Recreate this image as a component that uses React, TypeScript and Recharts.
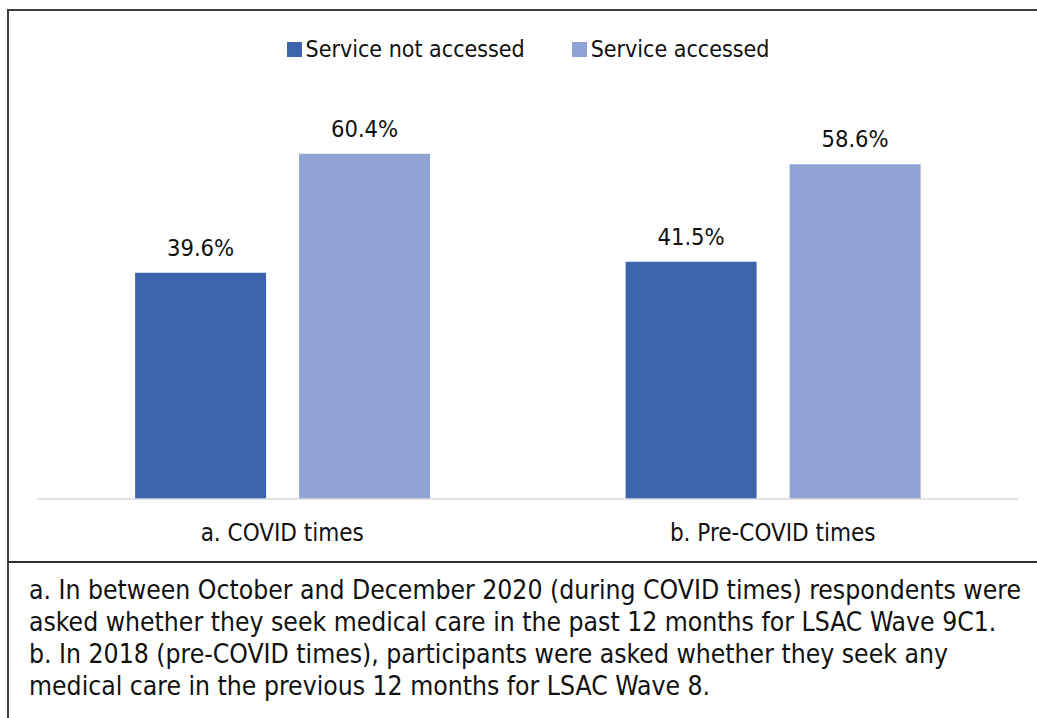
import React from 'react';
import { BarChart, Bar, XAxis, YAxis, LabelList } from 'recharts';

const categories = ['a. COVID times', 'b. Pre-COVID times'];
const notAccessed = [39.6, 41.5];
const accessed = [60.4, 58.6];
const seriesNames = ['Service not accessed', 'Service accessed'];
const seriesColors = ['#3D64AC', '#8FA3D4'];
const notes = [
  'a. In between October and December 2020 (during COVID times) respondents were',
  'asked whether they seek medical care in the past 12 months for LSAC Wave 9C1.',
  'b. In 2018 (pre-COVID times), participants were asked whether they seek any',
  'medical care in the previous 12 months for LSAC Wave 8.',
];

const data = categories.map((name, i) => ({
  name,
  notAccessed: notAccessed[i],
  accessed: accessed[i],
}));

const font = "'DejaVu Sans Condensed', 'DejaVu Sans', sans-serif";
const fmt = (v: number) => `${v.toFixed(1)}%`;

export default function App() {
  return (
    <div style={{ position: 'relative', width: 1037, height: 718, overflow: 'hidden', fontFamily: font }}>
      <style>{'body{margin:0;overflow:hidden}'}</style>
      <div style={{ position: 'absolute', left: 7, top: 9, width: 1100, height: 553, border: '2px solid #404040', borderRight: 'none', borderBottom: 'none', boxSizing: 'border-box' }} />
      <div style={{ position: 'absolute', left: 7, top: 561, width: 1100, height: 200, borderLeft: '2px solid #404040', borderTop: '2px solid #333', boxSizing: 'border-box' }} />

      <div style={{ position: 'absolute', left: 0, top: 36, width: 1056, display: 'flex', justifyContent: 'center', gap: 47, fontSize: 23, color: '#111' }}>
        {seriesNames.map((n, i) => (
          <div key={n} style={{ display: 'flex', alignItems: 'center' }}>
            <span style={{ display: 'inline-block', width: 15, height: 15, background: seriesColors[i], marginRight: 4 }} />
            {n}
          </div>
        ))}
      </div>

      <div style={{ position: 'absolute', left: 0, top: 0 }}>
        <BarChart
          width={1037}
          height={565}
          data={data}
          margin={{ top: 99, right: 19, left: 37, bottom: 26 }}
          barCategoryGap="20%"
          barGap={33}
        >
          <XAxis
            dataKey="name"
            height={40}
            axisLine={{ stroke: '#D9D9D9', strokeWidth: 1.5 }}
            tickLine={false}
            tickMargin={19}
            tick={{ fill: '#111', fontSize: 24, fontFamily: font }}
          />
          <YAxis hide domain={[0, 70]} />
          <Bar dataKey="notAccessed" fill={seriesColors[0]} isAnimationActive={false}>
            <LabelList dataKey="notAccessed" position="top" offset={17} formatter={fmt} style={{ fill: '#111', fontSize: 23.5, fontFamily: font }} />
          </Bar>
          <Bar dataKey="accessed" fill={seriesColors[1]} isAnimationActive={false}>
            <LabelList dataKey="accessed" position="top" offset={17} formatter={fmt} style={{ fill: '#111', fontSize: 23.5, fontFamily: font }} />
          </Bar>
        </BarChart>
      </div>

      <div style={{ position: 'absolute', left: 29, top: 574, fontSize: 26.3, lineHeight: '32px', color: '#111', whiteSpace: 'nowrap' }}>
        {notes.map(l => (
          <div key={l}>{l}</div>
        ))}
      </div>
    </div>
  );
}
